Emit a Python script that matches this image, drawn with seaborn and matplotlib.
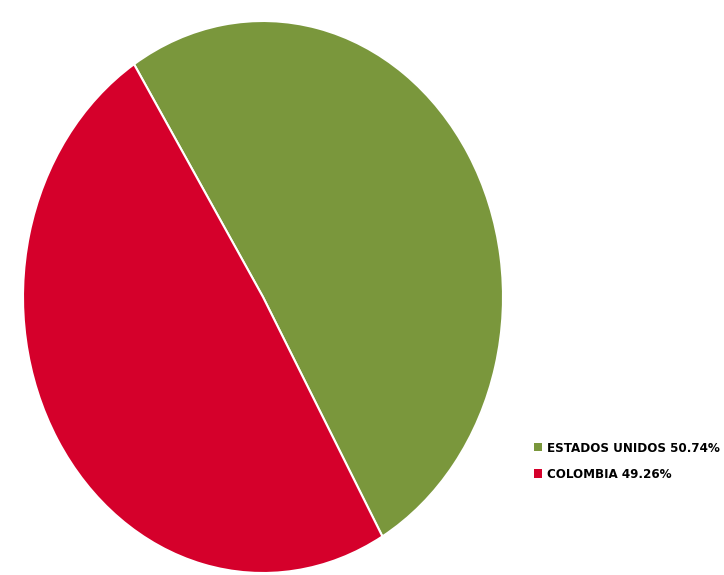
import matplotlib
matplotlib.use("Agg")
import matplotlib.pyplot as plt
from matplotlib.patches import Patch
import seaborn as sns

paises = ["ESTADOS UNIDOS", "COLOMBIA"]
porcentajes = [50.74, 49.26]
colores = ["#7A973C", "#D5002B"]

sns.set_theme(style="white")
plt.rcParams["font.family"] = ["DejaVu Sans"]

fig = plt.figure(figsize=(7.24, 5.75), dpi=100)
ax = fig.add_axes([23 / 724, 2 / 575, 480 / 724, 552 / 575])

wedges, _ = ax.pie(porcentajes, colors=colores, startangle=122.5, counterclock=False,
                   wedgeprops=dict(edgecolor="white", linewidth=1.5))
ax.set_aspect("auto")
ax.set_xlim(-1, 1)
ax.set_ylim(-1, 1)

etiquetas = [f"{p} {v:.2f}%" for p, v in zip(paises, porcentajes)]
handles = [Patch(facecolor=c, edgecolor="none") for c in colores]
leg = fig.legend(handles, etiquetas, loc="upper left", bbox_to_anchor=(530 / 724, 1 - 438 / 575),
                 frameon=False, handlelength=0.6, handleheight=0.6, handletextpad=0.4,
                 labelspacing=1.0, borderaxespad=0, borderpad=0.3,
                 prop=dict(family="DejaVu Sans", stretch="condensed", weight="bold", size=9.5))
for t in leg.get_texts():
    t.set_color("black")

fig.savefig("out.png", dpi=100)
